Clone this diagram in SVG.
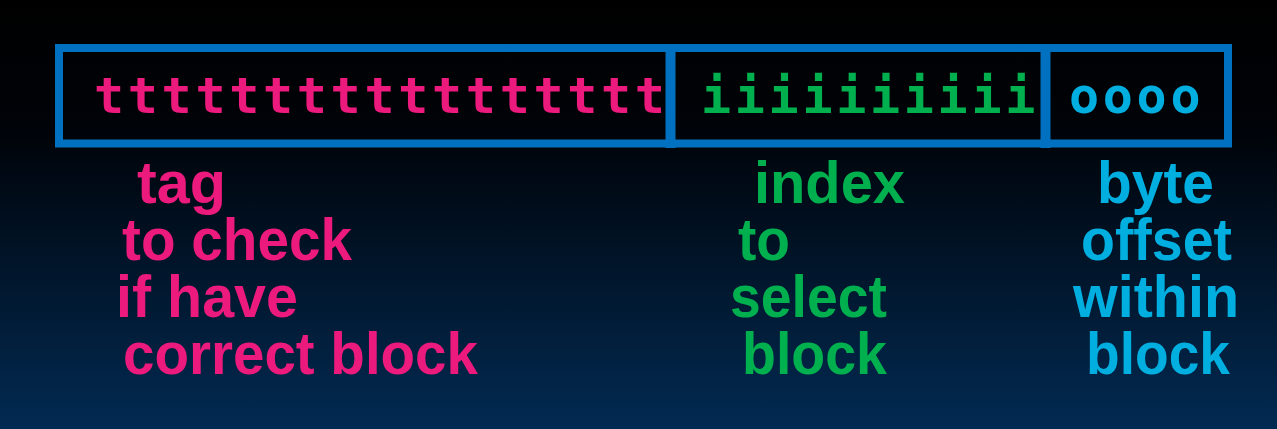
<svg xmlns="http://www.w3.org/2000/svg" width="1277" height="429" viewBox="0 0 1277 429">
<defs>
<linearGradient id="bg" x1="0" y1="0" x2="0" y2="1">
<stop offset="0" stop-color="#000000"/>
<stop offset="0.3" stop-color="#000308"/>
<stop offset="1" stop-color="#022a52"/>
</linearGradient>
</defs>
<style>
.box{fill:none;stroke:#0070c0;stroke-width:8}
.div{stroke:#0070c0;stroke-width:10}
.mono{font-family:"DejaVu Sans Mono","Liberation Mono",monospace;font-weight:bold;font-size:50px;letter-spacing:3.7px}
.lbl{font-family:"Liberation Sans",Arial,sans-serif;font-weight:bold;font-size:60px}
.pink{fill:#ec1a7d}
.green{fill:#00b04f}
.cyan{fill:#00afe0}
</style>
<rect x="0" y="0" width="1277" height="429" fill="url(#bg)"/>
<g id="address">
<rect class="box" x="59" y="48" width="1169" height="95.5"/>
</g>
<g id="connectors">
<line class="div" x1="670.5" y1="44" x2="670.5" y2="148"/>
<line class="div" x1="1045.5" y1="44" x2="1045.5" y2="148"/>
</g>
<g id="tag">
<text class="mono pink" x="94" y="113">ttttttttttttttttt</text>
<text class="lbl pink" x="137" y="203" textLength="89" lengthAdjust="spacingAndGlyphs">tag</text>
<text class="lbl pink" x="122" y="260" textLength="230" lengthAdjust="spacingAndGlyphs">to check</text>
<text class="lbl pink" x="116" y="317" textLength="182" lengthAdjust="spacingAndGlyphs">if have</text>
<text class="lbl pink" x="123" y="374" textLength="355" lengthAdjust="spacingAndGlyphs">correct block</text>
</g>
<g id="index">
<text class="mono green" x="701" y="113">iiiiiiiiii</text>
<text class="lbl green" x="754" y="203" textLength="151" lengthAdjust="spacingAndGlyphs">index</text>
<text class="lbl green" x="738" y="260" textLength="52" lengthAdjust="spacingAndGlyphs">to</text>
<text class="lbl green" x="730" y="317" textLength="157" lengthAdjust="spacingAndGlyphs">select</text>
<text class="lbl green" x="742" y="374" textLength="145" lengthAdjust="spacingAndGlyphs">block</text>
</g>
<g id="offset">
<text class="mono cyan" x="1069" y="113">oooo</text>
<text class="lbl cyan" x="1097" y="203" textLength="117" lengthAdjust="spacingAndGlyphs">byte</text>
<text class="lbl cyan" x="1081" y="260" textLength="151" lengthAdjust="spacingAndGlyphs">offset</text>
<text class="lbl cyan" x="1073" y="317" textLength="166" lengthAdjust="spacingAndGlyphs">within</text>
<text class="lbl cyan" x="1086" y="374" textLength="144" lengthAdjust="spacingAndGlyphs">block</text>
</g>
</svg>
